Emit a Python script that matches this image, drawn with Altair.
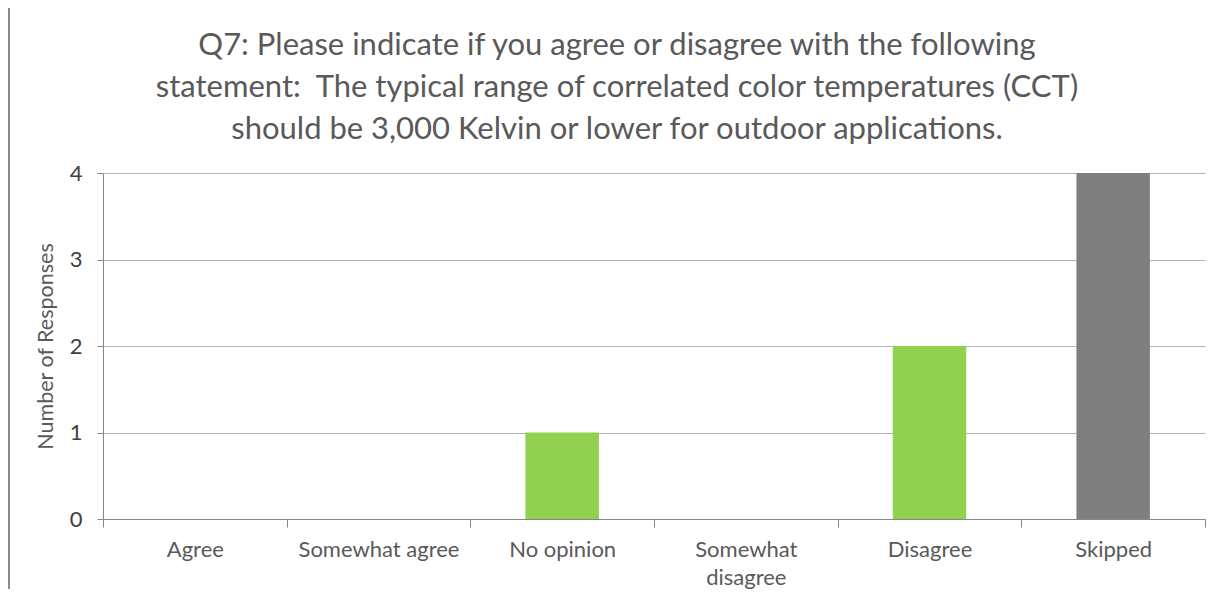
import altair as alt
import pandas as pd

categories = ["Agree", "Somewhat agree", "No opinion", "Somewhat disagree", "Disagree", "Skipped"]
responses = [0, 0, 1, 0, 2, 4]
bar_colors = ["#92D050", "#92D050", "#92D050", "#92D050", "#92D050", "#7F7F7F"]
y_ticks = [0, 1, 2, 3, 4]
title_lines = [
    "Q7: Please indicate if you agree or disagree with the following",
    "statement:\u00a0 The typical range of correlated color temperatures (CCT)",
    "should be 3,000 Kelvin or lower for outdoor applications.",
]

df = pd.DataFrame({"category": categories, "responses": responses, "color": bar_colors})

FONT = "Lato"

bars = alt.Chart(df).mark_bar(width=alt.RelativeBandSize(0.4)).encode(
    x=alt.X(
        "category:N",
        sort=categories,
        scale=alt.Scale(paddingInner=0, paddingOuter=0),
        axis=alt.Axis(
            title=None,
            labelAngle=0,
            tickBand="extent",
            tickSize=8,
            tickColor="#868686",
            domainColor="#868686",
            labelFontSize=22,
            labelColor="#595959",
            labelFont=FONT,
            labelPadding=12,
            labelLineHeight=28,
            labelExpr="datum.label == 'Somewhat disagree' ? ['Somewhat', 'disagree'] : datum.label",
            grid=False,
        ),
    ),
    y=alt.Y(
        "responses:Q",
        scale=alt.Scale(domain=[0, 4], nice=False),
        axis=alt.Axis(
            title="Number of Responses",
            values=y_ticks,
            format="d",
            grid=True,
            gridColor="#b3b3b3",
            domainColor="#868686",
            tickColor="#868686",
            tickSize=6,
            labelFontSize=22,
            labelColor="#404040",
            labelFont=FONT,
            labelPadding=15,
            titleFontSize=21.5,
            titleFont=FONT,
            titleFontWeight="normal",
            titleColor="#595959",
            titlePadding=12,
        ),
    ),
    color=alt.Color("color:N", scale=None, legend=None),
)

frame_left = alt.Chart(df).mark_rule(color="#8c8c8c", strokeWidth=1.5).encode(
    x=alt.value(-94), y=alt.value(-173), y2=alt.value(420)
)
frame_top = alt.Chart(df).mark_rule(color="#e3e3e3", strokeWidth=1.5).encode(
    x=alt.value(-94), x2=alt.value(1118), y=alt.value(-172)
)

chart = alt.layer(bars, frame_left, frame_top).properties(
    width=1102,
    height=346,
    autosize=alt.AutoSizeParams(type="none"),
    padding={"left": 95, "top": 165, "right": 18, "bottom": 70},
    title=alt.TitleParams(
        text=title_lines,
        anchor="middle",
        fontSize=31,
        font=FONT,
        fontWeight="normal",
        color="#595959",
        lineHeight=42,
        offset=0,
        dy=147,
        dx=-37,
    ),
).configure_view(stroke=None)

chart.save("out.html", embed_options={"renderer": "svg", "actions": False})
